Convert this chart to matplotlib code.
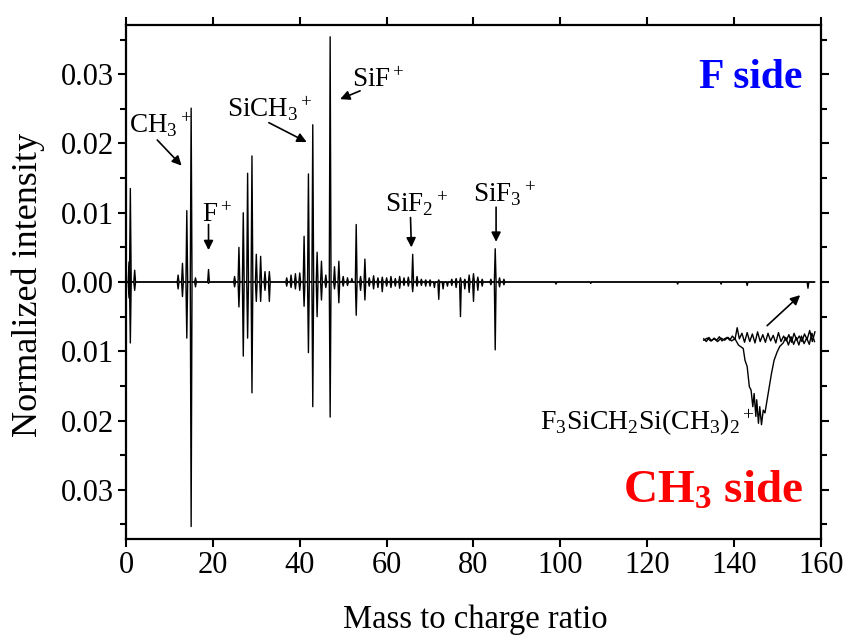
import numpy as np
import matplotlib

matplotlib.use("Agg")
import matplotlib.pyplot as plt
from matplotlib.ticker import FuncFormatter, MultipleLocator

plt.rcParams["font.family"] = ["Liberation Serif", "DejaVu Serif"]
plt.rcParams["mathtext.fontset"] = "custom"
plt.rcParams["mathtext.rm"] = "Liberation Serif"
plt.rcParams["mathtext.it"] = "Liberation Serif:italic"
plt.rcParams["mathtext.bf"] = "Liberation Serif:bold"

# F side peaks (plotted upward)
f_mass = [0.7, 1, 2, 12, 13, 14, 15, 16, 19,
          25, 26, 27, 28, 29, 30, 31, 32, 33,
          37, 38, 39, 40, 41, 42, 43, 44, 45, 46, 47, 48, 49, 50, 51, 52,
          53, 54, 55, 56, 57, 58, 59, 60, 61, 62, 63, 64, 65, 66, 67, 68,
          69, 70, 72, 75, 76, 77, 78, 79, 80, 81, 82, 84, 85, 86, 87]
f_int = [0.0029, 0.0135, 0.0017, 0.0010, 0.0027, 0.0103, 0.0251, 0.0006, 0.0018,
         0.0008, 0.0050, 0.0100, 0.0157, 0.0182, 0.0040, 0.0037, 0.0015, 0.0015,
         0.0006, 0.0010, 0.0012, 0.0013, 0.0066, 0.0156, 0.0227, 0.0043, 0.0030,
         0.0010, 0.0354, 0.0022, 0.0030, 0.0008, 0.0006, 0.0005,
         0.0083, 0.0008, 0.0033, 0.0006, 0.0009, 0.0006, 0.0007, 0.0006, 0.0008,
         0.0005, 0.0008, 0.0006, 0.0007, 0.0040, 0.0008, 0.0004,
         0.0003, 0.0003, 0.0003, 0.0004, 0.0005, 0.0006, 0.0004, 0.0010, 0.0012,
         0.0007, 0.0004, 0.0004, 0.0048, 0.0006, 0.0004]

# CH3 side peaks (plotted downward)
c_mass = [0.7, 1, 2, 12, 13, 14, 15, 16, 19,
          25, 26, 27, 28, 29, 30, 31, 32, 33,
          37, 38, 39, 40, 41, 42, 43, 44, 45, 46, 47, 48, 49, 50, 51,
          53, 54, 55, 56, 57, 58, 59, 60, 61, 62, 63, 64, 65, 66, 67, 68,
          69, 70, 71, 72, 73, 74, 75, 76, 77, 78, 79, 80, 81, 82, 84, 85, 86, 87,
          99, 107, 127, 137, 143, 157]
c_int = [0.0023, 0.0088, 0.0012, 0.0010, 0.0021, 0.0081, 0.0353, 0.0007, 0.0002,
         0.0007, 0.0036, 0.0107, 0.0081, 0.0160, 0.0028, 0.0028, 0.0012, 0.0028,
         0.0006, 0.0008, 0.0010, 0.0012, 0.0035, 0.0102, 0.0180, 0.0050, 0.0026,
         0.0008, 0.0195, 0.0010, 0.0030, 0.0006, 0.0005,
         0.0048, 0.0012, 0.0026, 0.0006, 0.0010, 0.0008, 0.0014, 0.0006, 0.0008,
         0.0006, 0.0009, 0.0005, 0.0006, 0.0014, 0.0006, 0.0005,
         0.0006, 0.0006, 0.0008, 0.0025, 0.0010, 0.0006, 0.0005, 0.0008, 0.0050,
         0.0010, 0.0015, 0.0028, 0.0012, 0.0006, 0.0004, 0.0098, 0.0007, 0.0004,
         0.0003, 0.0002, 0.0003, 0.0003, 0.0005, 0.0009]

# magnified view of the m/z ~145 region, drawn as an inset trace
inset_f_mass = [133.0, 133.6, 134.2, 134.8, 135.4, 136.0, 136.6, 137.2, 137.8, 138.4,
                139.0, 139.6, 140.2, 140.7, 141.2, 141.8, 142.4, 143.0, 143.6, 144.2,
                144.8, 145.4, 146.0, 146.6, 147.2, 147.8, 148.4, 149.0, 149.6, 150.2,
                150.8, 151.4, 152.0, 152.6, 153.2, 153.8, 154.4, 155.0, 155.6, 156.2,
                156.8, 157.4, 158.0, 158.6]
inset_f_int = [-0.0082, -0.0086, -0.0080, -0.0085, -0.0081, -0.0084, -0.0079, -0.0085,
               -0.0082, -0.0080, -0.0084, -0.0078, -0.0083, -0.0066, -0.0082, -0.0074,
               -0.0087, -0.0073, -0.0086, -0.0075, -0.0088, -0.0072, -0.0086, -0.0076,
               -0.0087, -0.0074, -0.0085, -0.0077, -0.0088, -0.0073, -0.0086, -0.0078,
               -0.0085, -0.0076, -0.0087, -0.0074, -0.0084, -0.0078, -0.0086, -0.0075,
               -0.0083, -0.0070, -0.0086, -0.0072]
inset_c_mass = [133.0, 133.8, 134.6, 135.4, 136.2, 137.0, 137.8, 138.6, 139.4, 140.2,
                141.0, 142.1, 142.5, 143.0, 143.5, 143.9, 144.3, 144.6, 145.0, 145.2,
                145.6, 145.9, 146.3, 146.7, 147.1, 147.6, 148.1, 148.6, 149.2, 149.9,
                150.5, 151.3, 151.9, 152.5, 153.1, 153.7, 154.3, 154.9, 155.5, 156.1,
                156.7, 157.3, 157.9, 158.5]
inset_c_int = [-0.0084, -0.0081, -0.0085, -0.0082, -0.0086, -0.0081, -0.0084, -0.0080,
               -0.0085, -0.0082, -0.0091, -0.0096, -0.0113, -0.0122, -0.0151, -0.0156,
               -0.0180, -0.0161, -0.0194, -0.0170, -0.0204, -0.0180, -0.0206, -0.0185,
               -0.0189, -0.0170, -0.0151, -0.0132, -0.0113, -0.0101, -0.0093, -0.0088,
               -0.0080, -0.0091, -0.0079, -0.0090, -0.0080, -0.0091, -0.0078, -0.0089,
               -0.0081, -0.0090, -0.0074, -0.0086]

x_ticks = [0, 20, 40, 60, 80, 100, 120, 140, 160]


def spike_trace(masses, heights, sign, half_width=0.2):
    xs = [0.0]
    ys = [0.0]
    for m, h in sorted(zip(masses, heights)):
        xs.extend([m - half_width, m, m + half_width])
        ys.extend([0.0, sign * h, 0.0])
    xs.append(158.5)
    ys.append(0.0)
    return np.array(xs), np.array(ys)


fig = plt.figure(figsize=(8.45, 6.35), dpi=100)
ax = fig.add_axes([0.1491, 0.1512, 0.8225, 0.8094])

fx, fy = spike_trace(f_mass, f_int, 1.0)
cx, cy = spike_trace(c_mass, c_int, -1.0)
ax.plot(cx, cy, color="black", lw=1.0)
ax.plot(fx, fy, color="black", lw=1.0)
ax.plot(inset_f_mass, inset_f_int, color="black", lw=1.0)
ax.plot(inset_c_mass, inset_c_int, color="black", lw=1.0)

ax.set_xlim(0, 160)
ax.set_ylim(-0.0371, 0.0371)
ax.set_xticks(x_ticks)
ax.yaxis.set_major_locator(MultipleLocator(0.01))
ax.yaxis.set_minor_locator(MultipleLocator(0.005))
ax.yaxis.set_major_formatter(FuncFormatter(lambda v, p: f"{abs(v):.2f}"))
ax.tick_params(axis="both", which="both", direction="out", top=True, right=True,
               width=1.5, labelsize=22)
ax.tick_params(which="major", length=6, pad=2.5)
ax.tick_params(which="minor", length=4)
for side in ax.spines.values():
    side.set_linewidth(1.6)

ax.set_xlabel("Mass to charge ratio", fontsize=23.5)
ax.set_ylabel("Normalized intensity", fontsize=26)
ax.xaxis.set_label_coords(0.502, -0.127)
ax.yaxis.set_label_coords(-0.116, 0.494)

arrow = dict(arrowstyle="-|>", color="black", lw=1.2, mutation_scale=14, shrinkA=0, shrinkB=0)
ax.text(0.8, 0.0215, r"CH$_3$$^+$", fontsize=19.5)
ax.annotate("", xy=(12.8, 0.0168), xytext=(7.2, 0.0205), arrowprops=arrow)
ax.text(17.4, 0.0087, r"F$^+$", fontsize=19.5)
ax.annotate("", xy=(19.0, 0.0046), xytext=(19.0, 0.0083), arrowprops=arrow)
ax.text(23.3, 0.0238, r"SiCH$_3$$^+$", fontsize=19.5)
ax.annotate("", xy=(41.6, 0.0202), xytext=(32.9, 0.0230), arrowprops=arrow)
ax.text(52.0, 0.0282, r"SiF$^+$", fontsize=19.5)
ax.annotate("", xy=(49.3, 0.0264), xytext=(53.9, 0.0276), arrowprops=arrow)
ax.text(59.6, 0.0101, r"SiF$_2$$^+$", fontsize=19.5)
ax.annotate("", xy=(65.7, 0.0050), xytext=(65.5, 0.0093), arrowprops=arrow)
ax.text(80.0, 0.0116, r"SiF$_3$$^+$", fontsize=19.5)
ax.annotate("", xy=(85.2, 0.0058), xytext=(85.2, 0.0108), arrowprops=arrow)
ax.text(95.3, -0.0214, r"F$_3$SiCH$_2$Si(CH$_3$)$_2$$^+$", fontsize=20)
ax.annotate("", xy=(155.2, -0.0019), xytext=(147.6, -0.0063), arrowprops=arrow)

ax.text(155.8, 0.028, "F side", fontsize=30, fontweight="bold", color="blue", ha="right")
ax.text(155.8, -0.0319, r"CH$_\mathbf{3}$ side", fontsize=34, fontweight="bold",
        color="red", ha="right")

fig.savefig("out.png", dpi=100, facecolor="white")
